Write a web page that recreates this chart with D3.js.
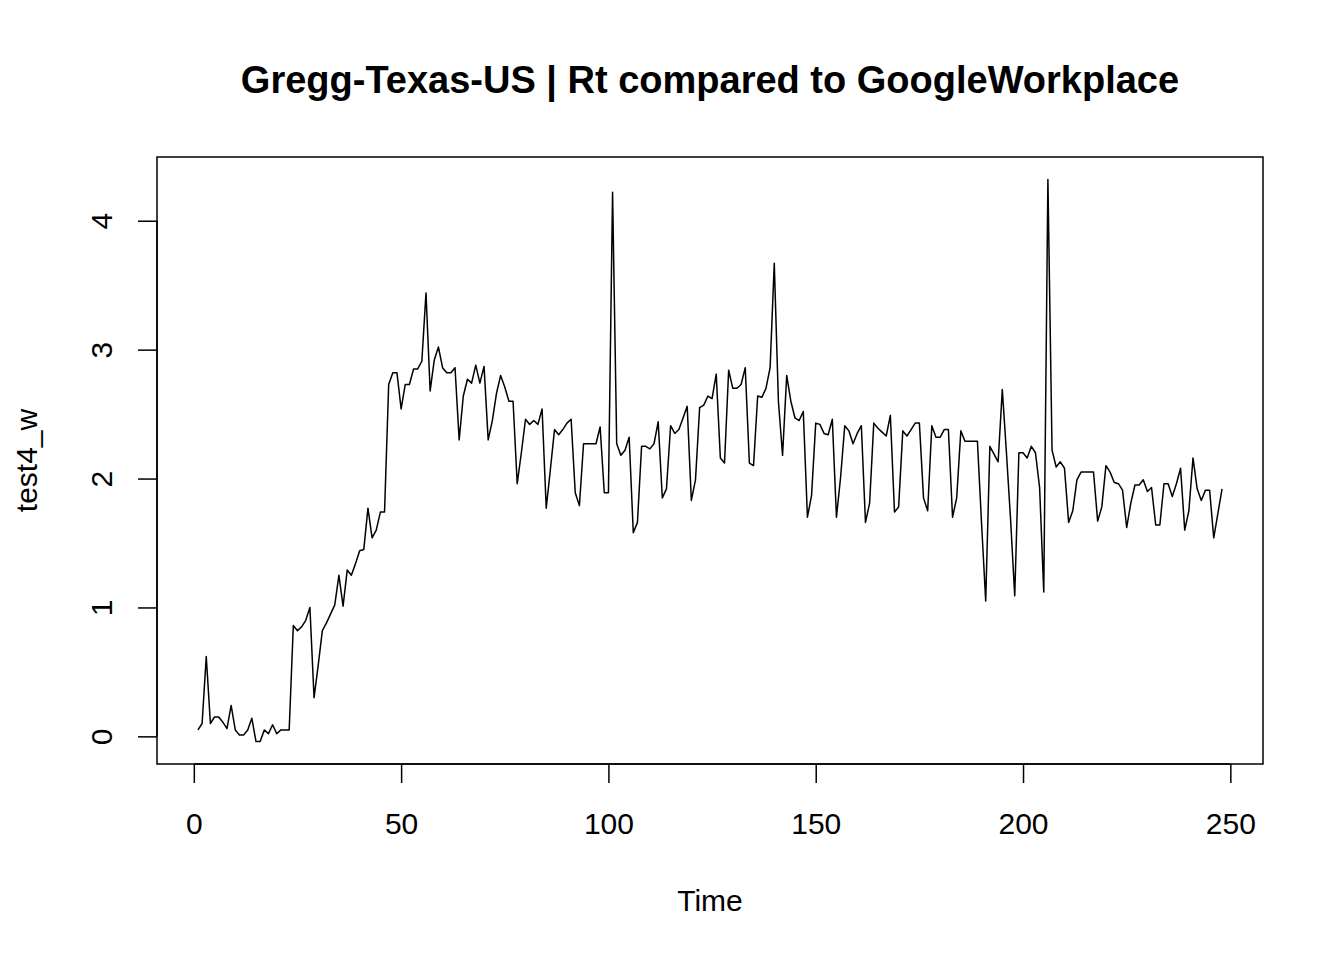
<!DOCTYPE html>
<html>
<head>
<meta charset="utf-8">
<script src="https://cdn.jsdelivr.net/npm/d3@7"></script>
<style>
  body { margin: 0; background: #fff; }
  svg text { font-family: "Liberation Sans", Arial, sans-serif; fill: #000; }
</style>
</head>
<body>
<svg id="chart" width="1344" height="960"></svg>
<script>
// series, time starts at 1
var startTime = 1;
var rtValues = [
  0.05, 0.10, 0.62, 0.10, 0.15, 0.15, 0.11, 0.06, 0.24, 0.05,
  0.01, 0.01, 0.05, 0.14, -0.04, -0.04, 0.05, 0.02, 0.09, 0.02,
  0.05, 0.05, 0.05, 0.86, 0.82, 0.85, 0.90, 1.00, 0.30, 0.55,
  0.82, 0.88, 0.95, 1.02, 1.25, 1.01, 1.29, 1.25, 1.34, 1.44,
  1.45, 1.77, 1.54, 1.60, 1.74, 1.74, 2.73, 2.82, 2.82, 2.54,
  2.73, 2.73, 2.85, 2.85, 2.91, 3.44, 2.68, 2.92, 3.02, 2.86,
  2.82, 2.82, 2.86, 2.30, 2.64, 2.77, 2.74, 2.88, 2.74, 2.87,
  2.30, 2.45, 2.66, 2.80, 2.71, 2.60, 2.60, 1.96, 2.20, 2.46,
  2.42, 2.45, 2.42, 2.54, 1.77, 2.07, 2.38, 2.34, 2.38, 2.43,
  2.46, 1.89, 1.79, 2.27, 2.27, 2.27, 2.27, 2.40, 1.89, 1.89,
  4.22, 2.27, 2.18, 2.22, 2.32, 1.58, 1.66, 2.25, 2.25, 2.23,
  2.27, 2.44, 1.85, 1.92, 2.41, 2.35, 2.38, 2.47, 2.56, 1.83,
  1.99, 2.55, 2.57, 2.64, 2.62, 2.81, 2.16, 2.12, 2.84, 2.70,
  2.70, 2.73, 2.86, 2.12, 2.10, 2.64, 2.63, 2.70, 2.86, 3.67,
  2.60, 2.18, 2.80, 2.60, 2.47, 2.45, 2.52, 1.70, 1.87, 2.43,
  2.42, 2.35, 2.34, 2.46, 1.70, 2.01, 2.41, 2.37, 2.27, 2.35,
  2.41, 1.66, 1.81, 2.43, 2.39, 2.36, 2.33, 2.49, 1.74, 1.78,
  2.37, 2.33, 2.38, 2.43, 2.43, 1.85, 1.75, 2.41, 2.32, 2.32,
  2.38, 2.38, 1.70, 1.85, 2.37, 2.29, 2.29, 2.29, 2.29, 1.65,
  1.05, 2.25, 2.19, 2.13, 2.69, 2.20, 1.68, 1.09, 2.20, 2.20,
  2.16, 2.25, 2.20, 1.93, 1.12, 4.32, 2.22, 2.09, 2.13, 2.08,
  1.66, 1.75, 1.99, 2.05, 2.05, 2.05, 2.05, 1.67, 1.78, 2.10,
  2.05, 1.97, 1.96, 1.91, 1.62, 1.81, 1.95, 1.95, 1.99, 1.90,
  1.93, 1.64, 1.64, 1.96, 1.96, 1.86, 1.96, 2.08, 1.60, 1.75,
  2.16, 1.92, 1.83, 1.91, 1.91, 1.54, 1.73, 1.92
];
var xTicks = [0, 50, 100, 150, 200, 250];
var yTicks = [0, 1, 2, 3, 4];
var titleText = "Gregg-Texas-US | Rt compared to GoogleWorkplace";
var xLabel = "Time";
var yLabel = "test4_w";

var svg = d3.select("#chart");
var box = { left: 157, right: 1263, top: 157, bottom: 764 };

var points = rtValues.map(function(v, i) { return { t: startTime + i, v: v }; });

// R style axis range: data range padded 4% each side
function padded(ext) {
  var d = (ext[1] - ext[0]) * 0.04;
  return [ext[0] - d, ext[1] + d];
}

var x = d3.scaleLinear()
  .domain(padded(d3.extent(points, function(d) { return d.t; })))
  .range([box.left, box.right]);
var y = d3.scaleLinear()
  .domain(padded(d3.extent(points, function(d) { return d.v; })))
  .range([box.bottom, box.top]);

// data line
var line = d3.line()
  .x(function(d) { return x(d.t); })
  .y(function(d) { return y(d.v); });

svg.append("path")
  .datum(points)
  .attr("d", line)
  .attr("fill", "none")
  .attr("stroke", "#000")
  .attr("stroke-width", 1.5)
  .attr("stroke-linejoin", "round");

// plot frame
svg.append("rect")
  .attr("x", box.left)
  .attr("y", box.top)
  .attr("width", box.right - box.left)
  .attr("height", box.bottom - box.top)
  .attr("fill", "none")
  .attr("stroke", "#000")
  .attr("stroke-width", 1.5);

// x axis
var xAxis = d3.axisBottom(x).tickValues(xTicks).tickSize(19).tickPadding(10).tickSizeOuter(0);
var gx = svg.append("g").attr("transform", "translate(0," + box.bottom + ")").call(xAxis);
gx.select(".domain").attr("d", "M" + x(xTicks[0]) + ",0H" + x(xTicks[xTicks.length - 1]));
gx.selectAll("line, path").attr("stroke", "#000").attr("stroke-width", 1.5);
gx.selectAll("text")
  .attr("font-size", 30)
  .attr("font-family", "Liberation Sans, Arial, sans-serif")
  .attr("fill", "#000")
  .attr("dy", null)
  .attr("y", 70);

// y axis, labels turned like R's las = 0
var yAxis = d3.axisLeft(y).tickValues(yTicks).tickSize(19).tickSizeOuter(0).tickFormat(d3.format("d"));
var gy = svg.append("g").attr("transform", "translate(" + box.left + ",0)").call(yAxis);
gy.select(".domain").attr("d", "M0," + y(yTicks[0]) + "V" + y(yTicks[yTicks.length - 1]));
gy.selectAll("line, path").attr("stroke", "#000").attr("stroke-width", 1.5);
gy.selectAll("text")
  .attr("font-size", 30)
  .attr("font-family", "Liberation Sans, Arial, sans-serif")
  .attr("fill", "#000")
  .attr("x", null)
  .attr("dy", null)
  .attr("text-anchor", "middle")
  .attr("transform", "translate(-45,0) rotate(-90)");

// titles
svg.append("text")
  .attr("x", (box.left + box.right) / 2)
  .attr("y", 93)
  .attr("text-anchor", "middle")
  .attr("font-size", 38)
  .attr("font-weight", "bold")
  .text(titleText);

svg.append("text")
  .attr("x", (box.left + box.right) / 2)
  .attr("y", 911)
  .attr("text-anchor", "middle")
  .attr("font-size", 30)
  .text(xLabel);

svg.append("text")
  .attr("transform", "translate(37," + (box.top + box.bottom) / 2 + ") rotate(-90)")
  .attr("text-anchor", "middle")
  .attr("font-size", 30)
  .text(yLabel);
</script>
</body>
</html>
